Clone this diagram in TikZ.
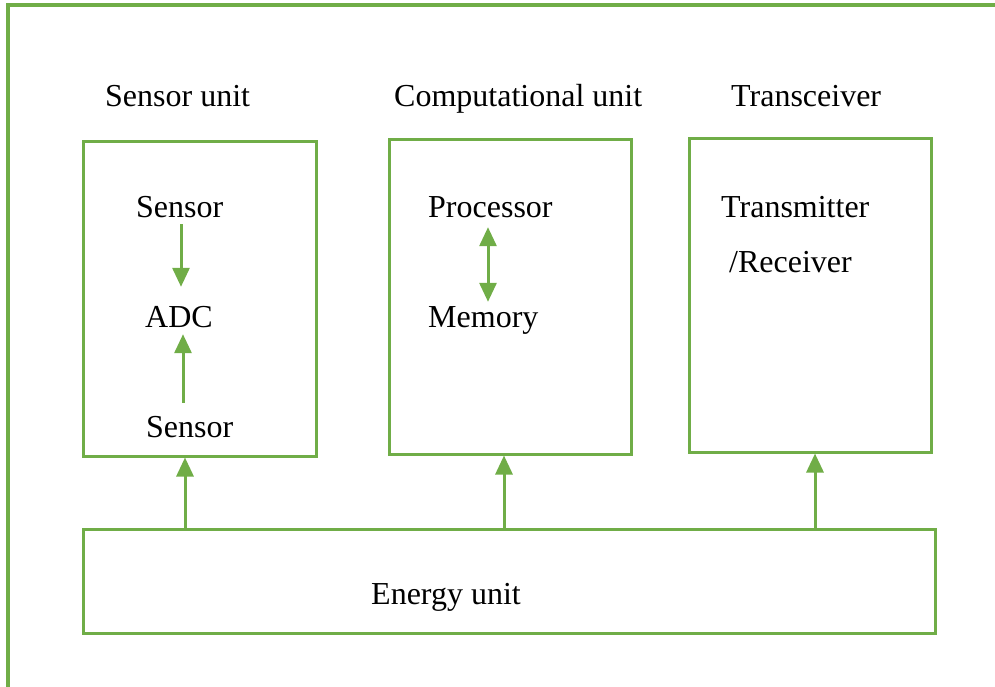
\documentclass[tikz,border=0pt]{standalone}
\usepackage{fontspec}
\setmainfont{Liberation Serif}
\usetikzlibrary{arrows.meta,calc}
\definecolor{grn}{HTML}{70AD47}
\begin{document}
\begin{tikzpicture}[x=1pt,y=-1pt,
  box/.style={draw=grn,line width=3pt,rectangle},
  lbl/.style={inner sep=0pt,anchor=base west,text height=22pt,text depth=7pt,font=\fontsize{32}{38}\selectfont},
  arr/.style={draw=grn,line width=3pt,-{Triangle[length=19pt,width=17pt]}},
  darr/.style={draw=grn,line width=3pt,{Triangle[length=19pt,width=17pt]}-{Triangle[length=19pt,width=17pt]}}]
\useasboundingbox (0,0) rectangle (995,687);
% outer frame (left and top only)
\draw[grn,line width=3.5pt] (8,687) -- (8,5) -- (995,5);
% boxes
\node[box,minimum width=233pt,minimum height=314pt] (su) at (199.5,299) {};
\node[box,minimum width=242pt,minimum height=314pt] (cu) at (510,297) {};
\node[box,minimum width=242pt,minimum height=313pt] (tr) at (810,295.5) {};
\node[box,minimum width=852pt,minimum height=104pt] (en) at (509,581) {};
% titles
\node[lbl] (tsu) at (105,107) {Sensor unit};
\node[lbl] (tcu) at (394,107) {Computational unit};
\node[lbl] (ttr) at (731,107) {Transceiver};
% sensor unit contents
\node[lbl] (s1) at (136,217) {Sensor};
\node[lbl] (adc) at (145,327) {ADC};
\node[lbl] (s2) at (146,437) {Sensor};
% computational unit contents
\node[lbl] (proc) at (428,217) {Processor};
\node[lbl] (mem) at (428,327) {Memory};
% transceiver contents
\node[lbl] (tx) at (721,217) {Transmitter};
\node[lbl] (rx) at (729,272) {/Receiver};
% energy
\node[lbl] (eu) at (371,604) {Energy unit};
% arrows
\draw[arr,shorten >=18pt] (181,0 |- s1.south) -- (181,0 |- adc.north);
\draw[arr,shorten <=12pt] (183,0 |- s2.north) -- (183,0 |- adc.south);
\draw[darr,shorten <=3pt,shorten >=3pt] (488,0 |- proc.south) -- (488,0 |- mem.north);
\draw[arr] (185,0 |- en.north) -- (185,0 |- su.south);
\draw[arr] (504,0 |- en.north) -- (504,0 |- cu.south);
\draw[arr] (815,0 |- en.north) -- (815,0 |- tr.south);
\end{tikzpicture}
\end{document}
